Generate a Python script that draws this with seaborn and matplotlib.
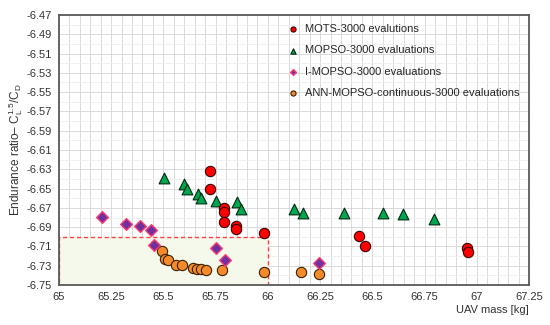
import numpy as np
import pandas as pd
import matplotlib
matplotlib.use('Agg')
import matplotlib.pyplot as plt
import matplotlib.patches as mpatches
from matplotlib.ticker import MultipleLocator, FixedLocator
import seaborn as sns

# Данные
mots_mass = [65.722, 65.725, 65.790, 65.790, 65.791, 65.849, 65.849, 65.982,
             66.434, 66.467, 66.955, 66.956]
mots_ratio = [-6.6315, -6.6508, -6.6705, -6.6740, -6.6847, -6.6888, -6.6920, -6.6957,
              -6.6989, -6.7100, -6.7120, -6.7155]

mopso_mass = [65.503, 65.600, 65.612, 65.667, 65.679, 65.752, 65.851, 65.871,
              66.126, 66.166, 66.365, 66.553, 66.646, 66.797]
mopso_ratio = [-6.6387, -6.6453, -6.6500, -6.6560, -6.6600, -6.6626, -6.6636, -6.6715,
               -6.6715, -6.6750, -6.6750, -6.6757, -6.6767, -6.6816]

imopso_mass = [65.206, 65.320, 65.390, 65.440, 65.454, 65.752, 65.795, 66.243]
imopso_ratio = [-6.6795, -6.6864, -6.6888, -6.6926, -6.7085, -6.7116, -6.7240, -6.7269]

ann_mass = [65.495, 65.508, 65.522, 65.559, 65.589, 65.640, 65.662, 65.681, 65.706,
            65.779, 65.982, 66.160, 66.243]
ann_ratio = [-6.7150, -6.7230, -6.7240, -6.7296, -6.7296, -6.7320, -6.7335, -6.7337,
             -6.7340, -6.7348, -6.7365, -6.7365, -6.7390]

labels = ['MOTS-3000 evalutions', 'MOPSO-3000 evaluations',
          'I-MOPSO-3000 evaluations', 'ANN-MOPSO-continuous-3000 evaluations']

sns.set_theme(style='white')
plt.rcParams['font.family'] = ['Liberation Sans', 'DejaVu Sans']
plt.rcParams['mathtext.fontset'] = 'custom'
plt.rcParams['mathtext.rm'] = 'Liberation Sans'
plt.rcParams['mathtext.it'] = 'Liberation Sans'

fig = plt.figure(figsize=(5.5, 3.25), dpi=100)
ax = fig.add_axes([0.107, 0.123, 0.855, 0.831])

# Зона (пунктирный прямоугольник)
rect = mpatches.Rectangle((65, -6.75), 1.0, 0.05, facecolor='#F5F9EC',
                          edgecolor='#FF4040', linestyle=(0, (3, 2)), lw=1.0, zorder=1)
ax.add_patch(rect)

sns.scatterplot(x=mots_mass, y=mots_ratio, ax=ax, marker='o', s=55, color='#FF0000',
                edgecolor='#3a0000', linewidth=0.8, label=labels[0], zorder=5)
sns.scatterplot(x=mopso_mass, y=mopso_ratio, ax=ax, marker='^', s=60, color='#00A550',
                edgecolor='#002a10', linewidth=0.8, label=labels[1], zorder=4)
sns.scatterplot(x=imopso_mass, y=imopso_ratio, ax=ax, marker='D', s=36, color='#7030A0',
                edgecolor='#FF3C6E', linewidth=1.0, label=labels[2], zorder=6)
sns.scatterplot(x=ann_mass, y=ann_ratio, ax=ax, marker='o', s=55, color='#F58A2A',
                edgecolor='#3a2000', linewidth=0.8, label=labels[3], zorder=5)

ax.set_xlim(65, 67.25)
ax.set_ylim(-6.75, -6.47)
ax.xaxis.set_major_locator(MultipleLocator(0.25))
ax.xaxis.set_minor_locator(MultipleLocator(0.05))
ax.yaxis.set_major_locator(FixedLocator(np.arange(-6.75, -6.465, 0.02)))
ax.yaxis.set_minor_locator(FixedLocator(np.arange(-6.74, -6.47, 0.02)))
ax.xaxis.set_major_formatter(plt.FuncFormatter(lambda v, p: f'{v:g}'))
ax.yaxis.set_major_formatter(plt.FuncFormatter(lambda v, p: f'{v:.2f}'))

ax.grid(which='major', axis='both', color='#DADADA', lw=0.7, zorder=0)
ax.grid(which='minor', axis='x', color='#DADADA', lw=0.7, zorder=0)
ax.grid(which='minor', axis='y', color='#EFEFEF', lw=0.6, zorder=0)
ax.set_axisbelow(True)

ax.tick_params(axis='both', which='both', length=0, labelsize=8, colors='#333333', pad=5)
for sp in ax.spines.values():
    sp.set_color('#595959')
    sp.set_linewidth(1.3)

ax.set_xlabel('UAV mass [kg]', loc='right', fontsize=8, color='#333333', labelpad=2)
ax.set_ylabel(r'Endurance ratio– $\mathregular{C_L^{1.5}/C_D}$', fontsize=8.5,
              color='#333333', labelpad=1)

leg = ax.legend(loc='upper left', bbox_to_anchor=(0.46, 0.99), frameon=False,
                fontsize=8, markerscale=0.5, handletextpad=0.1, labelspacing=1.0,
                borderaxespad=0.2)

fig.savefig('out.png', dpi=100)
plt.close(fig)
